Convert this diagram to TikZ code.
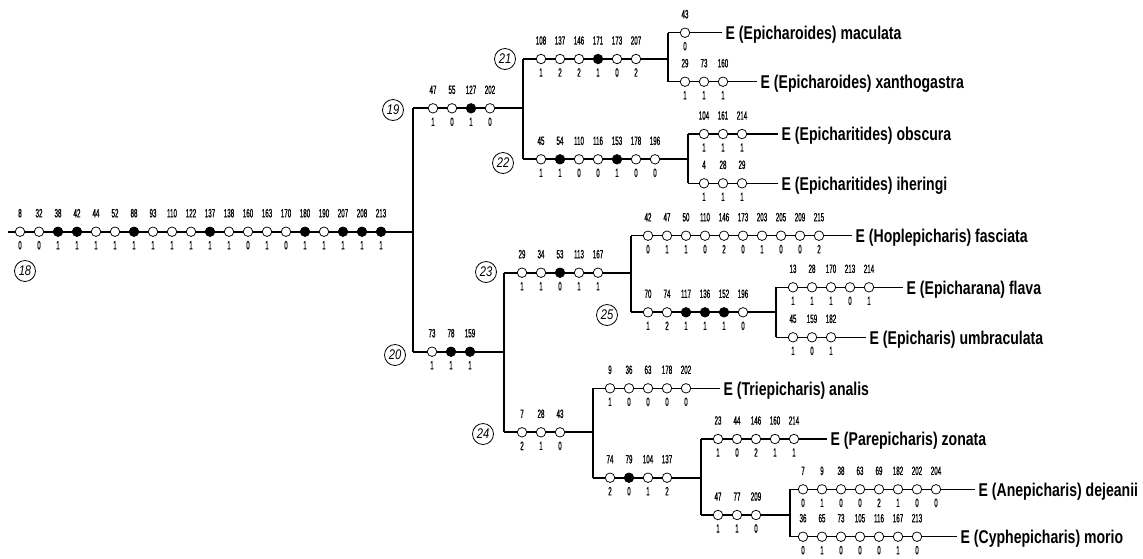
\documentclass[tikz,border=0pt]{standalone}
\usepackage{fontspec}
\newfontfamily\numf[FakeStretch=0.52,FakeBold=0.8]{Liberation Sans}
\newfontfamily\taxf[FakeStretch=0.76]{Liberation Sans}
\newfontfamily\labf[FakeStretch=0.8]{Liberation Sans}
\tikzset{
  tree/.style={line width=1.7pt},
  twig/.style={line width=1.1pt},
  st/.style={circle,draw,line width=0.75pt,inner sep=0pt,minimum size=9.5pt},
  wh/.style={fill=white},
  bk/.style={fill=black},
  num/.style={inner sep=0pt,font=\numf\fontsize{12}{12}\selectfont},
  taxon/.style={anchor=base west,inner sep=0pt,font=\taxf\bfseries\fontsize{18.5}{18.5}\selectfont},
  clade/.style={circle,draw,line width=0.8pt,inner sep=0pt,minimum size=21pt,
    font=\labf\itshape\fontsize{14}{14}\selectfont}
}
% internal branch: name, x start, x end, y
\newcommand\stem[4]{%
  \coordinate (#1s) at (#2,#4);
  \coordinate (#1e) at (#3,#4);
  \draw[tree] (#1s) -- (#1e);}
% terminal branch with its taxon name: name, x start, x end, y, text
\newcommand\tip[5]{%
  \coordinate (#1s) at (#2,#4);
  \coordinate (#1e) at (#3,#4);
  \draw[twig] (#1s) -- (#1e);
  \node[taxon] (#1) at ([xshift=3.5pt,yshift=-6.8pt]#1e) {#5};}
% row of character states: name, first x, y, list of character/state/style
\newcommand\charrow[4]{%
  \foreach[count=\i] \nm/\vl/\fl in {#4}{%
    \node[st,\fl] (#1c\i) at ({#2+19*(\i-1)},#3) {};
    \node[num] (#1t\i) at ({#2+19*(\i-1)},{#3-18.5}) {\nm};
    \node[num] (#1b\i) at ({#2+19*(\i-1)},{#3+13.5}) {\vl};
  }}
\begin{document}
\begin{tikzpicture}[x=1pt,y=-1pt]
\useasboundingbox (0,0) rectangle (1143,558);

% internal branches
\stem{n18}{8}{413}{231.7}
\stem{n19}{413}{523}{108.3}
\stem{n20}{413}{504}{351.7}
\stem{n21}{523}{668}{59}
\stem{n22}{523}{688}{159.3}
\stem{n23}{504}{631}{272.7}
\stem{n24}{504}{593}{432.3}
\stem{n25}{631}{776}{312.3}
\stem{n26}{593}{701}{477.7}
\stem{n27}{701}{790}{515}

% terminal branches
\tip{mac}{668}{722}{32.7}{E (Epicharoides) maculata}
\tip{xan}{668}{757}{81.7}{E (Epicharoides) xanthogastra}
\tip{obs}{688}{778}{134}{E (Epicharitides) obscura}
\tip{ihe}{688}{778}{183.3}{E (Epicharitides) iheringi}
\tip{fas}{631}{852}{235.7}{E (Hoplepicharis) fasciata}
\tip{fla}{776}{903}{287.3}{E (Epicharana) flava}
\tip{umb}{776}{866}{337.3}{E (Epicharis) umbraculata}
\tip{ana}{593}{720}{388.3}{E (Triepicharis) analis}
\tip{zon}{701}{827}{439}{E (Parepicharis) zonata}
\tip{dej}{790}{975}{489.3}{E (Anepicharis) dejeanii}
\tip{mor}{790}{957}{536.7}{E (Cyphepicharis) morio}

% splits
\draw[tree] (n19s) -- (n20s);
\draw[tree] (n21s) -- (n22s);
\draw[tree] (n23s) -- (n24s);
\draw[tree] (fass) -- (n25s);
\draw[tree] (anas) -- (n26s);
\draw[tree] (zons) -- (n27s);
\draw[tree] (macs) -- (xans);
\draw[tree] (obss) -- (ihes);
\draw[tree] (flas) -- (umbs);
\draw[tree] (dejs) -- (mors);

% character changes
\charrow{n18}{20}{231.7}{8/0/wh,32/0/wh,38/1/bk,42/1/bk,44/1/wh,52/1/wh,88/1/bk,93/1/wh,110/1/wh,122/1/wh,137/1/bk,138/1/wh,160/0/wh,163/1/wh,170/0/wh,180/1/bk,190/1/wh,207/1/bk,208/1/bk,213/1/bk}
\charrow{n19}{433}{108.3}{47/1/wh,55/0/wh,127/1/bk,202/0/wh}
\charrow{n20}{432}{351.7}{73/1/wh,78/1/bk,159/1/bk}
\charrow{n21}{541}{59}{108/1/wh,137/2/wh,146/2/wh,171/1/bk,173/0/wh,207/2/wh}
\charrow{n22}{541}{159.3}{45/1/wh,54/1/bk,110/0/wh,116/0/wh,153/1/bk,178/0/wh,196/0/wh}
\charrow{n23}{522}{272.7}{29/1/wh,34/1/wh,53/0/bk,113/1/wh,167/1/wh}
\charrow{n24}{522}{432.3}{7/2/wh,28/1/wh,43/0/wh}
\charrow{n25}{648}{312.3}{70/1/wh,74/2/wh,117/1/bk,136/1/bk,152/1/bk,196/0/wh}
\charrow{n26}{610}{477.7}{74/2/wh,79/0/bk,104/1/wh,137/2/wh}
\charrow{n27}{718}{515}{47/1/wh,77/1/wh,209/0/wh}
\charrow{mac}{685}{32.7}{43/0/wh}
\charrow{xan}{685}{81.7}{29/1/wh,73/1/wh,160/1/wh}
\charrow{obs}{704}{134}{104/1/wh,161/1/wh,214/1/wh}
\charrow{ihe}{704}{183.3}{4/1/wh,28/1/wh,29/1/wh}
\charrow{fas}{648}{235.7}{42/0/wh,47/1/wh,50/1/wh,110/0/wh,146/2/wh,173/0/wh,203/1/wh,205/0/wh,209/0/wh,215/2/wh}
\charrow{fla}{793}{287.3}{13/1/wh,28/1/wh,170/1/wh,213/0/wh,214/1/wh}
\charrow{umb}{793}{337.3}{45/1/wh,159/0/wh,182/1/wh}
\charrow{ana}{610}{388.3}{9/1/wh,36/0/wh,63/0/wh,178/0/wh,202/0/wh}
\charrow{zon}{718}{439}{23/1/wh,44/0/wh,146/2/wh,160/1/wh,214/1/wh}
\charrow{dej}{803}{489.3}{7/0/wh,9/1/wh,38/0/wh,63/0/wh,69/2/wh,182/1/wh,202/0/wh,204/0/wh}
\charrow{mor}{803}{536.7}{36/0/wh,65/1/wh,73/0/wh,105/0/wh,116/0/wh,167/1/wh,213/0/wh}

% clade numbers
\node[clade] (k18) at (25,271) {18};
\node[clade] (k19) at (393,110) {19};
\node[clade] (k20) at (395,355) {20};
\node[clade] (k21) at (505,59) {21};
\node[clade] (k22) at (503,163) {22};
\node[clade] (k23) at (486,272) {23};
\node[clade] (k24) at (483,434) {24};
\node[clade] (k25) at (607,315) {25};
\end{tikzpicture}
\end{document}
